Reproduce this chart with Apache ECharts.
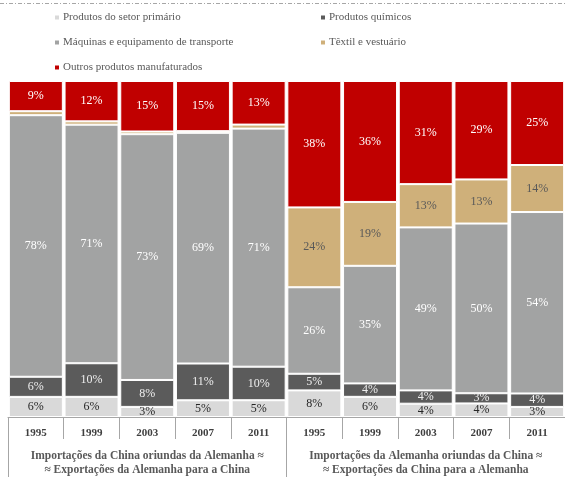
<!DOCTYPE html>
<html><head><meta charset="utf-8">
<script src="https://cdn.jsdelivr.net/npm/echarts@6/dist/echarts.min.js"></script>
<style>html,body{margin:0;padding:0;background:#fff}#c{width:565px;height:477px}</style>
</head><body><div id="c"></div>
<script>
var years = ['1995','1999','2003','2007','2011','1995','1999','2003','2007','2011'];
var groups = ['Importações da China oriundas da Alemanha ≈\n≈ Exportações da Alemanha para a China',
              'Importações da Alemanha oriundas da China ≈\n≈ Exportações da China para a Alemanha'];
var seriesNames = ['Produtos do setor primário','Produtos químicos','Máquinas e equipamento de transporte','Têxtil e vestuário','Outros produtos manufaturados'];
var primary   = [6, 6, 3, 5, 5, 8, 6, 4, 4, 3];
var chemicals = [6, 10, 8, 11, 10, 5, 4, 4, 3, 4];
var machinery = [78, 71, 73, 69, 71, 26, 35, 49, 50, 54];
var textile   = [1.2, 1, 0.8, 0.5, 1.2, 24, 19, 13, 13, 14];
var other     = [9, 12, 15, 15, 13, 38, 36, 31, 29, 25];

var raw = [primary, chemicals, machinery, textile, other];
var colors = ['#d9d9d9', '#5b5b5b', '#a2a3a3', '#cfb07a', '#c00000'];
var labelColors = ['#262626', '#eeeeee', '#ffffff', '#595959', '#ffffff'];
var totals = years.map(function(_, i){ return raw.reduce(function(s, a){ return s + a[i]; }, 0); });

var FONT = '"Liberation Serif", "DejaVu Serif", serif';

var series = raw.map(function(arr, k){
  return {
    name: seriesNames[k], type: 'bar', stack: 'all', barWidth: 54,
    itemStyle: {color: colors[k], borderColor: '#ffffff', borderWidth: 1},
    label: {
      show: true, position: 'inside', fontFamily: FONT, fontSize: 12, color: labelColors[k],
      formatter: function(p){ var v = arr[p.dataIndex]; return v >= 2.5 ? Math.round(v) + '%' : ''; }
    },
    data: arr.map(function(v, i){ return v / totals[i] * 100; })
  };
});

var legendPos = [[48, 7], [314, 7], [48, 32], [314, 32], [48, 57]];
var legends = seriesNames.map(function(n, k){
  return {
    data: [n], left: legendPos[k][0], top: legendPos[k][1], orient: 'horizontal',
    icon: 'rect', itemWidth: 6, itemHeight: 6, itemGap: 4,
    textStyle: {fontFamily: FONT, fontSize: 11, color: '#595959', padding: [0,0,0,-2]},
    selectedMode: false
  };
});

var chart = echarts.init(document.getElementById('c'));
chart.setOption({
  animation: false,
  backgroundColor: '#ffffff',
  legend: legends,
  graphic: [{type: 'line', shape: {x1: 0, y1: 3.5, x2: 565, y2: 3.5},
             style: {stroke: '#a6a6a6', lineWidth: 1, lineDash: [4, 2, 1, 2]}}],
  grid: {left: 8, top: 81, width: 564, bottom: 58, containLabel: false},
  xAxis: [
    {type: 'category', data: years, position: 'bottom',
     axisLine: {show: true, lineStyle: {color: '#a6a6a6', width: 1}},
     axisTick: {show: true, interval: 0, length: 22, lineStyle: {color: '#a6a6a6'}},
     axisLabel: {interval: 0, margin: 11, fontFamily: FONT, fontSize: 11, fontWeight: 'bold', color: '#404040'}},
    {type: 'category', data: groups, position: 'bottom', offset: 22,
     axisLine: {show: false},
     axisTick: {show: true, interval: 0, length: 38, lineStyle: {color: '#a6a6a6'}},
     axisLabel: {interval: 0, margin: 10, lineHeight: 14, fontFamily: FONT, fontSize: 11.5, fontWeight: 'bold', color: '#595959'}}
  ],
  yAxis: {type: 'value', min: 0, max: 100, show: false},
  series: series
});
</script></body></html>
